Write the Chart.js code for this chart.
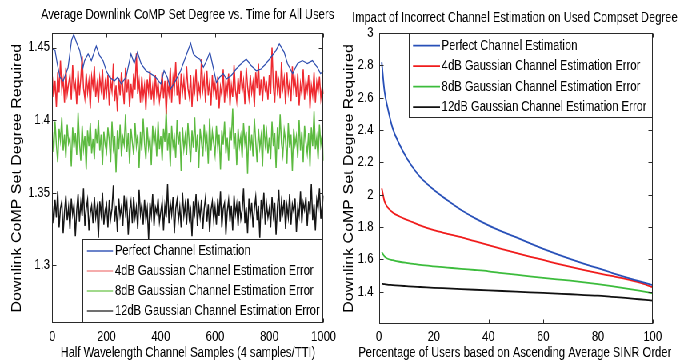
<!DOCTYPE html>
<html><head><meta charset="utf-8">
<script src="https://cdn.jsdelivr.net/npm/chart.js@4.4.1/dist/chart.umd.min.js"></script>
<style>
html,body{margin:0;padding:0;background:#fff;overflow:hidden;width:681px;height:360px}
#wrap{width:852px;height:360px;transform:scaleX(0.8);transform-origin:0 0;display:flex}
canvas{display:block}
</style></head><body>
<div id="wrap"><canvas id="c1" width="425" height="360"></canvas><canvas id="c2" width="427" height="360"></canvas></div>
<script>
// ---------- LEFT CHART DATA ----------
const leftTitle = 'Average Downlink CoMP Set Degree vs. Time for All Users';
const leftXTitle = 'Half Wavelength Channel Samples (4 samples/TTI)';
const yTitle = 'Downlink CoMP Set Degree Required';
const seriesNames = ['Perfect Channel Estimation','4dB Gaussian Channel Estimation Error','8dB Gaussian Channel Estimation Error','12dB Gaussian Channel Estimation Error'];
const leftXTicks = [0,200,400,600,800,1000];
const leftXTickLabels = ['0','200','400','600','800','1000'];
const leftYTicks = [1.3,1.35,1.4,1.45];
const leftYTickLabels = ['1.3','1.35','1.4','1.45'];
const sampleStep = 5; // noisy series sampled every 5 channel samples (0..1000)

const perfectX = [1,10,18,28,40,58,71,79,89,101,113,119,132,144,162,174,187,199,211,229,241,254,272,290,302,314,327,345,363,381,400,412,424,436,454,473,491,510,520,532,544,557,569,581,593,605,617,630,642,660,678,697,715,733,752,770,788,806,825,837,855,867,886,904,922,940,959,977,989,1000];
const perfectY = [1.449,1.448,1.439,1.4295,1.427,1.436,1.455,1.459,1.4537,1.448,1.436,1.441,1.4456,1.441,1.451,1.4445,1.441,1.434,1.4295,1.427,1.4295,1.425,1.4295,1.4456,1.439,1.4467,1.439,1.434,1.432,1.4295,1.425,1.434,1.4295,1.4214,1.427,1.434,1.4433,1.453,1.4456,1.4433,1.442,1.4364,1.441,1.4467,1.4364,1.426,1.4295,1.432,1.4283,1.4307,1.4352,1.439,1.442,1.4376,1.434,1.4352,1.439,1.4433,1.448,1.4525,1.4467,1.439,1.432,1.439,1.441,1.439,1.441,1.4364,1.432,1.434];

const err4dB = [
1.430,1.416,1.427,1.409,1.433,1.419,1.441,1.421,1.428,1.412,1.436,1.418,1.425,1.431,1.414,1.438,1.420,1.426,1.411,1.434,
1.417,1.429,1.444,1.422,1.415,1.432,1.419,1.427,1.408,1.430,1.423,1.437,1.416,1.425,1.412,1.429,1.421,1.435,1.414,1.426,
1.418,1.431,1.410,1.427,1.420,1.439,1.413,1.424,1.406,1.429,1.417,1.433,1.422,1.411,1.436,1.419,1.428,1.409,1.425,1.415,
1.432,1.421,1.446,1.418,1.427,1.412,1.430,1.416,1.424,1.407,1.428,1.419,1.434,1.414,1.423,1.410,1.431,1.418,1.426,1.413,
1.420,1.433,1.415,1.427,1.404,1.425,1.418,1.436,1.412,1.429,1.421,1.440,1.417,1.426,1.411,1.432,1.419,1.428,1.414,1.437,
1.422,1.416,1.431,1.409,1.427,1.420,1.435,1.413,1.424,1.418,1.442,1.421,1.429,1.412,1.434,1.417,1.426,1.410,1.431,1.419,
1.425,1.414,1.430,1.408,1.423,1.417,1.435,1.412,1.427,1.419,1.432,1.410,1.424,1.416,1.438,1.421,1.413,1.429,1.418,1.434,
1.420,1.427,1.411,1.436,1.423,1.415,1.431,1.419,1.426,1.409,1.433,1.422,1.439,1.417,1.428,1.413,1.430,1.421,1.425,1.414,
1.431,1.418,1.450,1.423,1.412,1.434,1.420,1.427,1.415,1.440,1.422,1.429,1.411,1.433,1.419,1.426,1.413,1.437,1.421,1.428,
1.416,1.432,1.410,1.425,1.418,1.435,1.414,1.427,1.420,1.431,1.408,1.424,1.417,1.433,1.412,1.426,1.419,1.430,1.415,1.423,1.418];

const err8dB = [
1.392,1.378,1.399,1.383,1.371,1.394,1.386,1.402,1.379,1.390,1.374,1.397,1.384,1.388,1.368,1.395,1.381,1.391,1.376,1.405,
1.385,1.372,1.396,1.380,1.389,1.366,1.393,1.382,1.398,1.377,1.387,1.373,1.394,1.384,1.400,1.379,1.390,1.369,1.392,1.383,
1.378,1.395,1.386,1.371,1.399,1.381,1.389,1.364,1.393,1.380,1.397,1.375,1.388,1.383,1.404,1.378,1.391,1.370,1.394,1.385,
1.376,1.398,1.382,1.390,1.367,1.392,1.379,1.401,1.384,1.373,1.395,1.381,1.388,1.369,1.396,1.383,1.391,1.375,1.399,1.380,
1.389,1.372,1.394,1.385,1.407,1.379,1.391,1.368,1.396,1.382,1.388,1.374,1.400,1.383,1.392,1.365,1.395,1.380,1.389,1.376,
1.398,1.384,1.371,1.393,1.381,1.402,1.378,1.390,1.367,1.394,1.385,1.375,1.397,1.382,1.389,1.370,1.401,1.379,1.392,1.384,
1.376,1.396,1.381,1.390,1.366,1.393,1.383,1.399,1.377,1.388,1.372,1.395,1.386,1.408,1.380,1.391,1.369,1.394,1.382,1.389,
1.374,1.398,1.384,1.392,1.363,1.396,1.379,1.390,1.375,1.401,1.385,1.371,1.394,1.381,1.389,1.368,1.397,1.383,1.392,1.377,
1.388,1.373,1.399,1.382,1.391,1.367,1.395,1.380,1.404,1.384,1.376,1.393,1.386,1.370,1.398,1.381,1.390,1.365,1.394,1.383,
1.389,1.374,1.400,1.379,1.392,1.371,1.396,1.385,1.377,1.391,1.368,1.395,1.382,1.406,1.380,1.388,1.373,1.397,1.383,1.390,1.372];

const err12dB = [
1.341,1.329,1.345,1.333,1.351,1.326,1.339,1.344,1.322,1.337,1.348,1.331,1.340,1.325,1.346,1.335,1.342,1.320,1.338,1.349,
1.330,1.343,1.334,1.353,1.327,1.339,1.345,1.324,1.336,1.341,1.329,1.347,1.333,1.340,1.319,1.344,1.335,1.350,1.328,1.338,
1.342,1.326,1.345,1.332,1.339,1.355,1.330,1.341,1.323,1.346,1.334,1.340,1.327,1.348,1.336,1.343,1.321,1.338,1.344,1.329,
1.347,1.333,1.340,1.325,1.352,1.335,1.342,1.328,1.345,1.331,1.339,1.318,1.343,1.334,1.349,1.327,1.340,1.336,1.346,1.330,
1.337,1.344,1.324,1.341,1.333,1.356,1.329,1.343,1.335,1.347,1.322,1.339,1.345,1.331,1.340,1.326,1.350,1.334,1.342,1.328,
1.346,1.332,1.338,1.320,1.344,1.336,1.349,1.327,1.341,1.333,1.345,1.325,1.339,1.347,1.330,1.342,1.323,1.338,1.344,1.331,
1.340,1.328,1.346,1.334,1.351,1.326,1.339,1.343,1.321,1.337,1.345,1.330,1.341,1.324,1.348,1.335,1.342,1.327,1.344,1.332,
1.338,1.353,1.329,1.340,1.322,1.346,1.334,1.343,1.326,1.339,1.347,1.331,1.341,1.319,1.345,1.336,1.350,1.328,1.342,1.333,
1.339,1.326,1.347,1.334,1.343,1.321,1.340,1.352,1.330,1.344,1.336,1.345,1.325,1.341,1.333,1.349,1.328,1.342,1.337,1.346,
1.323,1.340,1.334,1.351,1.329,1.343,1.338,1.347,1.327,1.344,1.335,1.356,1.331,1.342,1.324,1.345,1.339,1.353,1.332,1.341,1.348];

// ---------- RIGHT CHART DATA ----------
const rightTitle = 'Impact of Incorrect Channel Estimation on Used Compset Degree';
const rightXTitle = 'Percentage of Users based on Ascending Average SINR Order';
const rightXTicks = [0,20,40,60,80,100];
const rightXTickLabels = ['0','20','40','60','80','100'];
const rightYTicks = [1.4,1.6,1.8,2,2.2,2.4,2.6,2.8,3];
const rightYTickLabels = ['1.4','1.6','1.8','2','2.2','2.4','2.6','2.8','3'];
const usersPct = [1,2,3,5,7.5,10,12.5,15,20,25,30,35,40,45,50,55,60,65,70,75,80,85,90,95,100];
const perfectCurve = [2.82,2.64,2.55,2.41,2.31,2.23,2.165,2.11,2.03,1.965,1.905,1.855,1.81,1.772,1.737,1.70,1.665,1.632,1.601,1.572,1.545,1.517,1.49,1.465,1.44];
const err4Curve = [2.04,1.96,1.925,1.89,1.865,1.846,1.828,1.81,1.78,1.758,1.737,1.712,1.688,1.663,1.64,1.617,1.596,1.574,1.553,1.533,1.514,1.497,1.479,1.457,1.428];
const err8Curve = [1.645,1.618,1.605,1.595,1.585,1.578,1.572,1.566,1.557,1.549,1.541,1.534,1.526,1.515,1.505,1.495,1.485,1.476,1.468,1.458,1.447,1.434,1.42,1.406,1.39];
const err12Curve = [1.449,1.446,1.444,1.441,1.437,1.434,1.431,1.429,1.424,1.42,1.416,1.412,1.408,1.404,1.40,1.396,1.392,1.388,1.384,1.379,1.375,1.368,1.361,1.353,1.345];

// ---------- RENDERING ----------
const FONT = "'Liberation Sans', Arial, Helvetica, sans-serif";
Chart.defaults.font.family = FONT;
Chart.defaults.color = '#000';

const pairs = (xs, ys) => ys.map((y, i) => ({x: xs[i], y}));
const sampled = ys => ys.map((y, i) => ({x: i * sampleStep, y}));

const frameTicks = {
  id: 'frameTicks',
  afterDatasetsDraw(chart) {
    const {ctx, chartArea: a, scales} = chart;
    const L = Math.round(a.left) + 0.5, R = Math.round(a.right) - 0.5;
    const T = Math.round(a.top) + 0.5, B = Math.round(a.bottom) - 0.5;
    ctx.save();
    ctx.strokeStyle = '#2a2a2a';
    ctx.lineWidth = 1;
    ctx.strokeRect(L, T, R - L, B - T);
    ctx.beginPath();
    scales.x.ticks.forEach(t => {
      const px = Math.round(scales.x.getPixelForValue(t.value)) + 0.5;
      ctx.moveTo(px, B); ctx.lineTo(px, B - 4);
      ctx.moveTo(px, T); ctx.lineTo(px, T + 4);
    });
    scales.y.ticks.forEach(t => {
      const py = Math.round(scales.y.getPixelForValue(t.value)) + 0.5;
      ctx.moveTo(L, py); ctx.lineTo(L + 5, py);
      ctx.moveTo(R, py); ctx.lineTo(R - 5, py);
    });
    ctx.stroke();
    ctx.restore();
  }
};

const boxLegend = {
  id: 'boxLegend',
  afterDraw(chart, args, o) {
    const {ctx, chartArea: a} = chart;
    const x1 = Math.round(o.left) + 0.5, x2 = Math.round(a.right) - 0.5;
    const y1 = Math.round(o.top) + 0.5, y2 = Math.round(o.bottom) - 0.5;
    ctx.save();
    ctx.fillStyle = '#fff';
    ctx.fillRect(x1, y1, x2 - x1, y2 - y1);
    ctx.strokeStyle = '#2a2a2a';
    ctx.lineWidth = 1;
    ctx.strokeRect(x1, y1, x2 - x1, y2 - y1);
    ctx.font = '14px ' + FONT;
    ctx.textBaseline = 'middle';
    ctx.textAlign = 'left';
    o.items.forEach((it, i) => {
      const y = o.rowTop + i * o.rowStep;
      ctx.strokeStyle = it.color;
      ctx.lineWidth = o.lineWidth;
      ctx.beginPath();
      ctx.moveTo(o.sampleX1, y); ctx.lineTo(o.sampleX2, y);
      ctx.stroke();
      ctx.fillStyle = '#000';
      ctx.fillText(it.text, o.textX, y);
    });
    ctx.restore();
  }
};

function fixedTicks(values) {
  return s => { s.ticks = values.map(v => ({value: v})); };
}
function spacer(w) {
  return {type: 'linear', position: 'right', min: 0, max: 1, display: true,
    afterFit: s => { s.width = w; },
    grid: {display: false, drawTicks: false}, border: {display: false},
    ticks: {display: false}, title: {display: false}};
}

// LEFT
new Chart(document.getElementById('c1'), {
  type: 'line',
  data: {
    datasets: [
      {label: seriesNames[0], data: pairs(perfectX, perfectY), borderColor: '#2f4fb0', borderWidth: 1.2},
      {label: seriesNames[1], data: sampled(err4dB), borderColor: '#ee2a30', borderWidth: 1.5},
      {label: seriesNames[2], data: sampled(err8dB), borderColor: '#5cba40', borderWidth: 1.5},
      {label: seriesNames[3], data: sampled(err12dB), borderColor: '#151515', borderWidth: 1.5}
    ]
  },
  options: {
    responsive: false, animation: false, devicePixelRatio: 1,
    elements: {point: {radius: 0}, line: {tension: 0}},
    layout: {padding: {left: 35, right: -8.8, top: 0, bottom: 0}},
    plugins: {
      legend: {display: false}, tooltip: {enabled: false},
      title: {display: true, text: leftTitle, font: {size: 14, weight: 'normal', lineHeight: 1.2}, padding: {top: 7, bottom: 9.2}, color: '#000'},
      boxLegend: {
        left: 102.5, top: 239, bottom: 323.3, rowTop: 251, rowStep: 20, sampleX1: 108.75, sampleX2: 141.25, textX: 143.75, lineWidth: 1.5,
        items: [
          {text: seriesNames[0], color: '#3a5ab8'},
          {text: seriesNames[1], color: '#f29090'},
          {text: seriesNames[2], color: '#82cc66'},
          {text: seriesNames[3], color: '#404040'}
        ]
      }
    },
    scales: {
      x: {
        type: 'linear', min: 0, max: 1000,
        afterBuildTicks: fixedTicks(leftXTicks),
        afterFit: s => { s.height = 36.7; },
        grid: {display: false, drawTicks: false}, border: {display: false},
        ticks: {font: {size: 14}, padding: 5, maxRotation: 0, autoSkip: false, callback: (v) => leftXTickLabels[leftXTicks.indexOf(v)]},
        title: {display: true, text: leftXTitle, font: {size: 14, lineHeight: 1}, padding: {top: 0, bottom: 0}}
      },
      y: {
        type: 'linear', min: 1.26, max: 1.46,
        afterBuildTicks: fixedTicks(leftYTicks),
        afterFit: s => { s.width = 30.4; },
        grid: {display: false, drawTicks: false}, border: {display: false},
        ticks: {font: {size: 14}, padding: 3, autoSkip: false, callback: (v) => leftYTickLabels[leftYTicks.indexOf(v)]},
        title: {display: true, text: yTitle, font: {size: 16, lineHeight: 1.2}, padding: {top: -22.6, bottom: 0}}
      },
      yRightSpace: spacer(26.3)
    }
  },
  plugins: [frameTicks, boxLegend]
});

// RIGHT
new Chart(document.getElementById('c2'), {
  type: 'line',
  data: {
    datasets: [
      {label: seriesNames[0], data: pairs(usersPct, perfectCurve), borderColor: '#2850b8', borderWidth: 1.8},
      {label: seriesNames[1], data: pairs(usersPct, err4Curve), borderColor: '#f01c1c', borderWidth: 1.8},
      {label: seriesNames[2], data: pairs(usersPct, err8Curve), borderColor: '#3cbc3c', borderWidth: 1.8},
      {label: seriesNames[3], data: pairs(usersPct, err12Curve), borderColor: '#101010', borderWidth: 1.8}
    ]
  },
  options: {
    responsive: false, animation: false, devicePixelRatio: 1,
    elements: {point: {radius: 0}, line: {cubicInterpolationMode: 'monotone'}},
    layout: {padding: {left: 10, right: 0, top: 0, bottom: 0}},
    plugins: {
      legend: {display: false}, tooltip: {enabled: false},
      title: {display: true, text: rightTitle, font: {size: 14, weight: 'normal', lineHeight: 1.2}, padding: {top: 9.9, bottom: 6.3}, color: '#000'},
      subtitle: {display: true, position: 'bottom', text: rightXTitle, font: {size: 14, weight: 'normal', lineHeight: 1}, padding: {top: 0, bottom: 0}, color: '#000'},
      boxLegend: {
        left: 86.25, top: 33, bottom: 117.7, rowTop: 45.7, rowStep: 20.5, sampleX1: 91.25, sampleX2: 125, textX: 127.1, lineWidth: 1.8,
        items: [
          {text: seriesNames[0], color: '#2850b8'},
          {text: seriesNames[1], color: '#f01c1c'},
          {text: seriesNames[2], color: '#3cbc3c'},
          {text: seriesNames[3], color: '#101010'}
        ]
      }
    },
    scales: {
      x: {
        type: 'linear', min: 0, max: 100,
        afterBuildTicks: fixedTicks(rightXTicks),
        afterFit: s => { s.height = 22; },
        grid: {display: false, drawTicks: false}, border: {display: false},
        ticks: {font: {size: 14}, padding: 5, maxRotation: 0, autoSkip: false, callback: (v) => rightXTickLabels[rightXTicks.indexOf(v)]},
        title: {display: false}
      },
      y: {
        type: 'linear', min: 1.2, max: 3,
        afterBuildTicks: fixedTicks(rightYTicks),
        afterFit: s => { s.width = 38.75; },
        grid: {display: false, drawTicks: false}, border: {display: false},
        ticks: {font: {size: 14}, padding: 7, autoSkip: false, callback: (v) => rightYTickLabels[rightYTicks.indexOf(v)]},
        title: {display: true, text: yTitle, font: {size: 16, lineHeight: 1.2}, padding: {top: -8.35, bottom: 0}}
      },
      yRightSpace: spacer(36.1)
    }
  },
  plugins: [frameTicks, boxLegend]
});
</script>
</body></html>
